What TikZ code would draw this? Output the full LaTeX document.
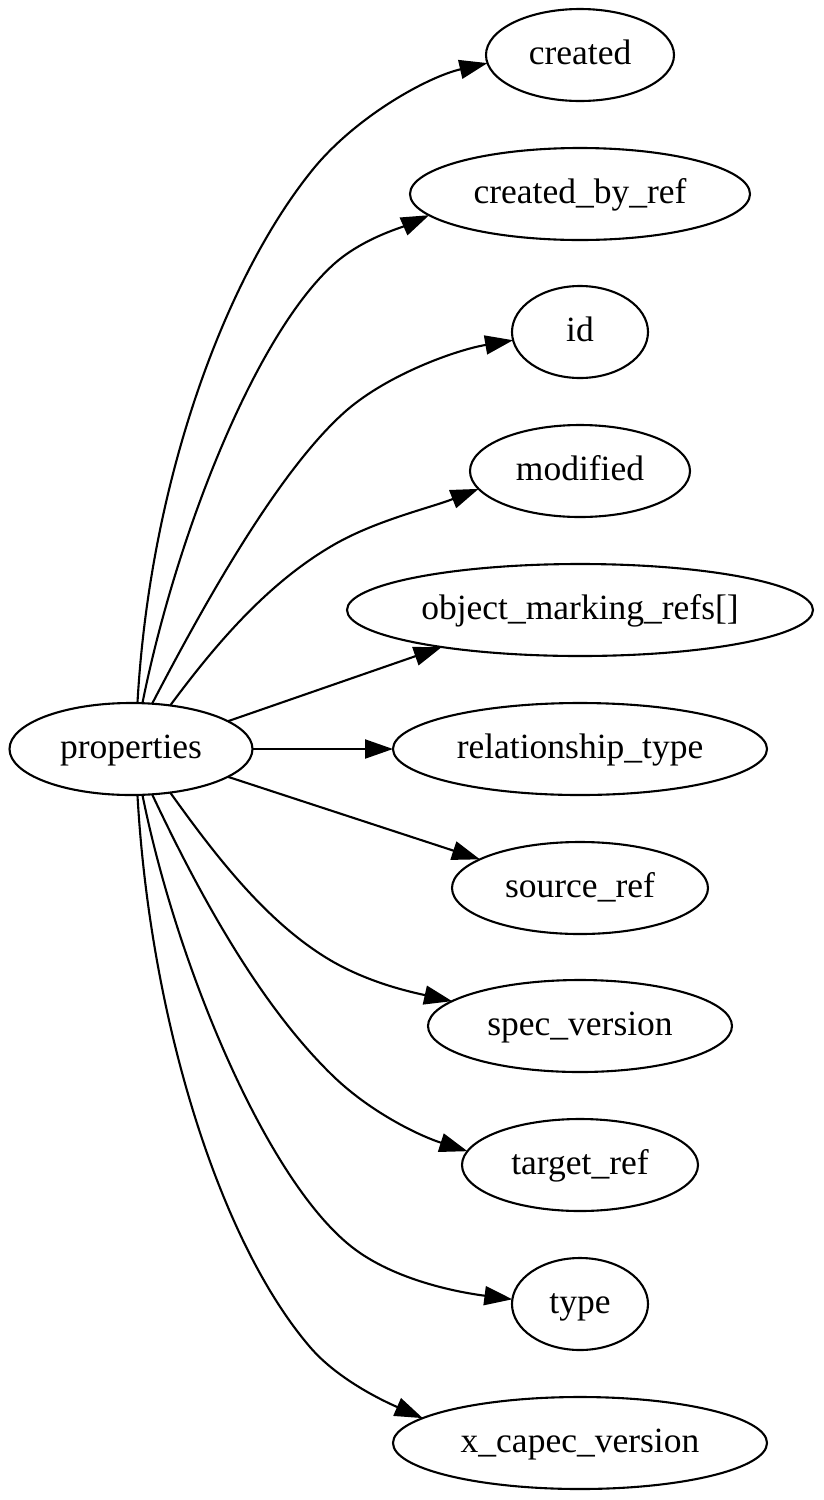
\documentclass[tikz,border=0pt]{standalone}
\usepackage{fontspec}
\setmainfont{Liberation Serif}
\usetikzlibrary{shapes.geometric,arrows.meta}
\begin{document}
\begin{tikzpicture}[x=1pt,y=-1pt,
  nd/.style={draw, ellipse, line width=2.1pt, inner sep=0pt, outer sep=0pt,
    minimum height=92pt, font=\fontsize{35.5}{40}\selectfont,
    text height=25pt, text depth=7pt},
  edge/.style={line width=2.1pt, -{Triangle[length=28pt,width=19pt]}}]
\useasboundingbox (0,0) rectangle (824,1500);
\node[nd, minimum width=243pt] (prop) at (131,749) {properties};
\node[nd, minimum width=188pt] (created) at (580,55) {created};
\node[nd, minimum width=340pt] (cbr) at (580,194) {created\_by\_ref};
\node[nd, minimum width=136pt] (id) at (580,332) {id};
\node[nd, minimum width=220pt] (mod) at (580,471) {modified};
\node[nd, minimum width=466pt] (obj) at (580,610) {object\_marking\_refs[]};
\node[nd, minimum width=374pt] (rel) at (580,749) {relationship\_type};
\node[nd, minimum width=256pt] (src) at (580,888) {source\_ref};
\node[nd, minimum width=304pt] (spec) at (580,1026) {spec\_version};
\node[nd, minimum width=236pt] (tgt) at (580,1165) {target\_ref};
\node[nd, minimum width=136pt] (type) at (580,1304) {type};
\node[nd, minimum width=374pt] (xcap) at (580,1443) {x\_capec\_version};

\draw[edge] (prop.82.6) .. controls (150,480) and (225,280) .. (310,173) .. controls (353,118) and (427,77) .. (created.185);
\draw[edge] (prop.76.5) .. controls (176,536) and (255,335) .. (334,264) .. controls (362,239) and (400,228) .. (cbr.188.7);
\draw[edge] (prop.65) .. controls (203,606) and (279,469) .. (347,410) .. controls (389,374) and (456,350) .. (id.187);
\draw[edge] (prop.48) .. controls (215,645) and (266,585) .. (330,547) .. controls (373,521) and (430,508) .. (mod.190.5);
\draw[edge] (prop.16.4) -- (obj.195.7);
\draw[edge] (prop.east) -- (rel.west);
\draw[edge] (prop.-16.4) -- (src.164.8);
\draw[edge] (prop.-48) .. controls (215,855) and (266,922) .. (330,960) .. controls (369,983) and (411,992) .. (spec.169.5);
\draw[edge] (prop.-65) .. controls (199,894) and (259,1003) .. (330,1073) .. controls (369,1112) and (420,1136) .. (tgt.173.4);
\draw[edge] (prop.-76.5) .. controls (176,962) and (263,1172) .. (347,1243) .. controls (389,1279) and (456,1292) .. (type.176.6);
\draw[edge] (prop.-82.6) .. controls (150,1018) and (219,1241) .. (310,1347) .. controls (339,1381) and (388,1403) .. (xcap.171);
\end{tikzpicture}
\end{document}
